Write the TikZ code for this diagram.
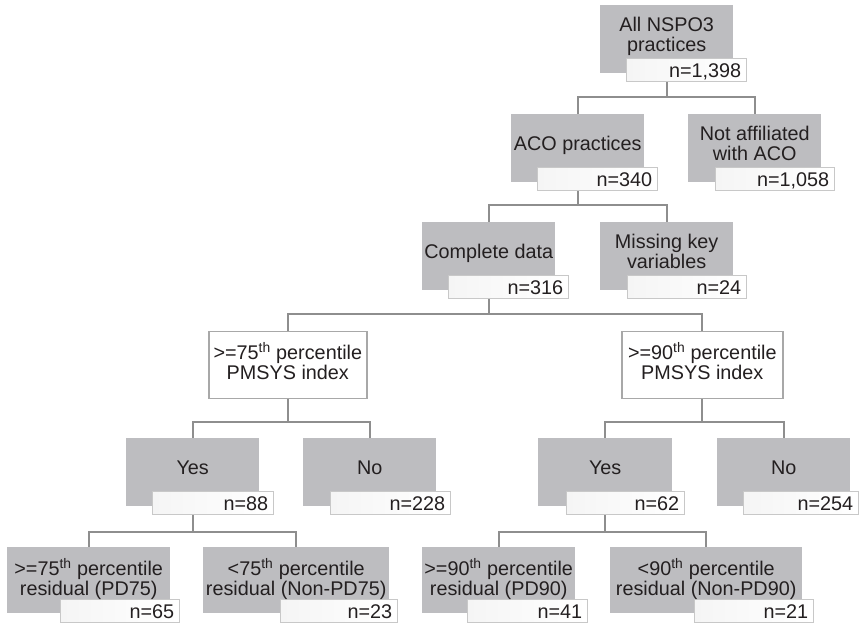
\documentclass[tikz,border=0pt]{standalone}
\usepackage{fontspec}
\setmainfont{Liberation Sans}
\usetikzlibrary{backgrounds}
\definecolor{boxgray}{RGB}{189,189,192}
\definecolor{linegray}{RGB}{142,142,142}
\definecolor{wborder}{RGB}{168,168,168}
\definecolor{nborder}{RGB}{200,200,200}
\definecolor{nfill}{RGB}{245,245,245}
\definecolor{txt}{RGB}{35,31,32}
\newcommand\fst{\rule{0pt}{15pt}}
\begin{document}
\begin{tikzpicture}[x=1pt,y=-1pt,
  graybox/.style={fill=boxgray, inner sep=0, anchor=north west, minimum height=68pt},
  graylow/.style={graybox, minimum height=66pt},
  whitebox/.style={draw=wborder, line width=1.6pt, fill=white, inner sep=0, anchor=north west, minimum height=67pt},
  nbox/.style={draw=nborder, line width=0.9pt, left color=nfill, right color=white, inner sep=0, anchor=north west, minimum height=23pt},
  lbl/.style={font=\fontsize{19.8}{20}\selectfont, text=txt, align=center, inner sep=0, anchor=north},
  nlbl/.style={font=\fontsize{19.8}{20}\selectfont, text=txt, inner sep=0, anchor=base east},
  conn/.style={draw=linegray, line width=1.8pt},
]
\useasboundingbox (0,0) rectangle (863,623);

% level 1
\node[graybox, minimum width=133pt] (b1) at (600,5) {};
\node[nbox, minimum width=120pt] (n1) at (626,58) {};
\node[lbl] (t1) at ([yshift=23pt]b1.center) {\fst All NSPO3\\practices};
\node[nlbl] (m1) at ([xshift=-5.5pt,yshift=4.5pt]n1.south east) {n=1,398};

% level 2
\node[graybox, minimum width=133pt] (b2) at (511,114) {};
\node[nbox, minimum width=120pt] (n2) at (537,167) {};
\node[lbl] (t2) at ([yshift=12.5pt]b2.center) {\fst ACO practices};
\node[nlbl] (m2) at ([xshift=-5.5pt,yshift=4.5pt]n2.south east) {n=340};

\node[graybox, minimum width=133pt] (b3) at (688,114) {};
\node[nbox, minimum width=119pt] (n3) at (715,167) {};
\node[lbl] (t3) at ([yshift=23pt]b3.center) {\fst Not affiliated\\with ACO};
\node[nlbl] (m3) at ([xshift=-5.5pt,yshift=4.5pt]n3.south east) {n=1,058};

% level 3
\node[graybox, minimum width=133pt] (b4) at (422,222) {};
\node[nbox, minimum width=120pt] (n4) at (448,275) {};
\node[lbl] (t4) at ([yshift=12.5pt]b4.center) {\fst Complete data};
\node[nlbl] (m4) at ([xshift=-5.5pt,yshift=4.5pt]n4.south east) {n=316};

\node[graybox, minimum width=133pt] (b5) at (600,222) {};
\node[nbox, minimum width=119pt] (n5) at (627,275) {};
\node[lbl] (t5) at ([yshift=23pt]b5.center) {\fst Missing key\\variables};
\node[nlbl] (m5) at ([xshift=-5.5pt,yshift=4.5pt]n5.south east) {n=24};

% level 4
\node[whitebox, minimum width=158pt] (w6) at (208,330.5) {};
\node[lbl] (t6) at ([yshift=23pt]w6.center) {\fst >=75\textsuperscript{th} percentile\\PMSYS index};
\node[whitebox, minimum width=161pt] (w7) at (621,330.5) {};
\node[lbl] (t7) at ([yshift=23pt]w7.center) {\fst >=90\textsuperscript{th} percentile\\PMSYS index};

% level 5
\node[graybox, minimum width=133pt] (b8) at (126,438) {};
\node[nbox, minimum width=121pt] (n8) at (152,491) {};
\node[lbl] (t8) at ([yshift=12.5pt]b8.center) {\fst Yes};
\node[nlbl] (m8) at ([xshift=-5.5pt,yshift=4.5pt]n8.south east) {n=88};

\node[graybox, minimum width=133pt] (b9) at (303,438) {};
\node[nbox, minimum width=120pt] (n9) at (330,491) {};
\node[lbl] (t9) at ([yshift=12.5pt]b9.center) {\fst No};
\node[nlbl] (m9) at ([xshift=-5.5pt,yshift=4.5pt]n9.south east) {n=228};

\node[graybox, minimum width=134pt] (b10) at (538,438) {};
\node[nbox, minimum width=118pt] (n10) at (566,491) {};
\node[lbl] (t10) at ([yshift=12.5pt]b10.center) {\fst Yes};
\node[nlbl] (m10) at ([xshift=-5.5pt,yshift=4.5pt]n10.south east) {n=62};

\node[graybox, minimum width=133pt] (b11) at (717,438) {};
\node[nbox, minimum width=115pt] (n11) at (743,491) {};
\node[lbl] (t11) at ([yshift=12.5pt]b11.center) {\fst No};
\node[nlbl] (m11) at ([xshift=-5.5pt,yshift=4.5pt]n11.south east) {n=254};

% level 6
\node[graylow, minimum width=163pt] (b12) at (7,547) {};
\node[nbox, minimum width=119pt] (n12) at (60,599) {};
\node[lbl] (t12) at ([yshift=22pt]b12.center) {\fst >=75\textsuperscript{th} percentile\\residual (PD75)};
\node[nlbl] (m12) at ([xshift=-5.5pt,yshift=4.5pt]n12.south east) {n=65};

\node[graylow, minimum width=186pt] (b13) at (203,547) {};
\node[nbox, minimum width=117pt] (n13) at (280,599) {};
\node[lbl] (t13) at ([yshift=22pt]b13.center) {\fst <75\textsuperscript{th} percentile\\residual (Non-PD75)};
\node[nlbl] (m13) at ([xshift=-5.5pt,yshift=4.5pt]n13.south east) {n=23};

\node[graylow, minimum width=153pt] (b14) at (422,547) {};
\node[nbox, minimum width=120pt] (n14) at (467,599) {};
\node[lbl] (t14) at ([yshift=22pt]b14.center) {\fst >=90\textsuperscript{th} percentile\\residual (PD90)};
\node[nlbl] (m14) at ([xshift=-5.5pt,yshift=4.5pt]n14.south east) {n=41};

\node[graylow, minimum width=192pt] (b15) at (610,547) {};
\node[nbox, minimum width=119pt] (n15) at (694,599) {};
\node[lbl] (t15) at ([yshift=22pt]b15.center) {\fst <90\textsuperscript{th} percentile\\residual (Non-PD90)};
\node[nlbl] (m15) at ([xshift=-5.5pt,yshift=4.5pt]n15.south east) {n=21};

% connectors
\begin{scope}[on background layer]
\coordinate (h1) at (0,97);
\coordinate (h2) at (0,205);
\coordinate (h3) at (0,314);
\coordinate (h4) at (0,422);
\coordinate (h5) at (0,532);
\draw[conn] (b1.south) -- (b1.south |- h1) -| (b2.north);
\draw[conn] (b1.south |- h1) -| (b3.north);
\draw[conn] (b2.south) -- (b2.south |- h2) -| (b4.north);
\draw[conn] (b2.south |- h2) -| (b5.north);
\draw[conn] (b4.south) -- (b4.south |- h3) -| (w6.north);
\draw[conn] (b4.south |- h3) -| (w7.north);
\draw[conn] (w6.south) -- (w6.south |- h4) -| (b8.north);
\draw[conn] (w6.south |- h4) -| (b9.north);
\draw[conn] (w7.south) -- (w7.south |- h4) -| (b10.north);
\draw[conn] (w7.south |- h4) -| (b11.north);
\draw[conn] (b8.south) -- (b8.south |- h5) -| (b12.north);
\draw[conn] (b8.south |- h5) -| (b13.north);
\draw[conn] (b10.south) -- (b10.south |- h5) -| (b14.north);
\draw[conn] (b10.south |- h5) -| (b15.north);
\end{scope}
\end{tikzpicture}
\end{document}
